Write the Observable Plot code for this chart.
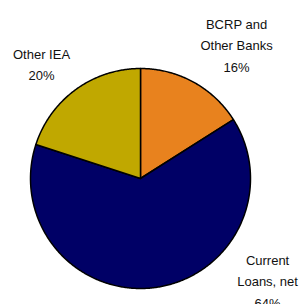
<!DOCTYPE html>
<html>
<head>
<meta charset="utf-8">
<script src="https://cdn.jsdelivr.net/npm/d3@7"></script>
<script src="https://cdn.jsdelivr.net/npm/@observablehq/plot@0.6"></script>
<style>
  html, body { margin: 0; padding: 0; background: #fff; }
  #chart svg { display: block; }
</style>
</head>
<body>
<div id="chart"></div>
<script>
// ---- data ----
const categories = ["BCRP and\nOther Banks", "Current\nLoans, net", "Other IEA"];
const shares = [16, 64, 20];
const colors = ["#E8821E", "#000066", "#C0A800"];

// ---- layout (label anchors in pie-radius units, not data) ----
const labelPos = [[0.873, 1.227], [1.155, -0.918], [-0.9, 1.055]];

const arcs = d3.pie().sort(null).value(d => d)(shares);
const features = arcs.map((a, i) => {
  const ring = [[0, 0]];
  const n = Math.max(4, Math.ceil((a.endAngle - a.startAngle) / 0.01));
  for (let k = 0; k <= n; k++) {
    const t = a.startAngle + (a.endAngle - a.startAngle) * k / n;
    ring.push([Math.sin(t), Math.cos(t)]);
  }
  ring.push([0, 0]);
  return {type: "Feature", properties: {category: categories[i]}, geometry: {type: "Polygon", coordinates: [ring]}};
});

const labels = categories.map((c, i) => ({
  x: labelPos[i][0], y: labelPos[i][1], text: c + "\n" + shares[i] + "%"
}));

const chart = Plot.plot({
  width: 304,
  height: 304,
  marginLeft: 30,
  marginRight: 54,
  marginTop: 68,
  marginBottom: 16,
  projection: {type: "reflect-y", clip: false, domain: {type: "MultiPoint", coordinates: [[-1, -1], [1, 1]]}},
  color: {domain: categories, range: colors},
  style: {fontFamily: "'Liberation Sans', Arial, sans-serif", background: "#fff", color: "#000", overflow: "visible"},
  marks: [
    Plot.geo(features, {fill: d => d.properties.category, stroke: "#000", strokeWidth: 1.5, strokeLinejoin: "round"}),
    Plot.text(labels, {x: "x", y: "y", text: "text", fontSize: 13, lineHeight: 1.65, textAnchor: "middle", fill: "#111", clip: false})
  ]
});
document.getElementById("chart").appendChild(chart);
</script>
</body>
</html>
